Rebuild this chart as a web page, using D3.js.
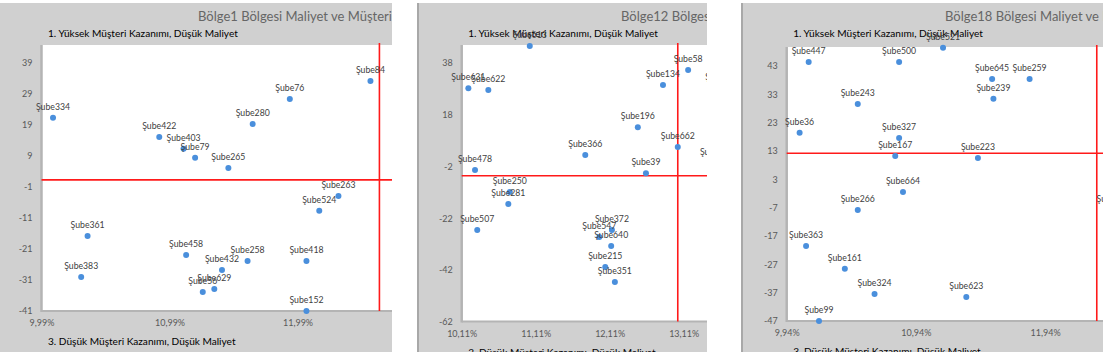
<!DOCTYPE html>
<html lang="tr">
<head>
	<meta charset="UTF-8"/>
	<title>Bölge Maliyet ve Müşteri Kazanımı</title>
	<script src="https://d3js.org/d3.v7.min.js"></script>
	<style>
		body{ margin:0; background:#fff; }
		svg{ display:block; font-family: Lato, "Open Sans", sans-serif; }
	</style>
</head>
<body>
<script>
// Bölge1 : x = maliyet (%), y = müşteri kazanımı
var b1Names = ["Şube334","Şube422","Şube403","Şube79","Şube265","Şube280","Şube76","Şube84","Şube263","Şube524",
			   "Şube361","Şube458","Şube258","Şube418","Şube432","Şube383","Şube629","Şube56","Şube152"];
var b1Cost  = [10.08, 10.91, 11.10, 11.19, 11.45, 11.64, 11.93, 12.56, 12.31, 12.16,
			   10.35, 11.12, 11.60, 12.06, 11.40, 10.30, 11.34, 11.25, 12.06];
var b1Gain  = [21.3, 15.1, 11.3, 8.4, 5.1, 19.3, 27.4, 33.2, -3.9, -8.7,
			   -16.8, -22.9, -24.9, -24.9, -27.8, -30.0, -33.9, -34.9, -41.0];
var b1XTicks = [9.99, 10.99, 11.99];
var b1YTicks = [-41, -31, -21, -11, -1, 9, 19, 29, 39];
var b1Limits = [12.63, 1.3];   // kırmızı çizgiler: maliyet, kazanım

// Bölge12
var b2Names = ["Şube613","Şube631","Şube622","Şube134","Şube58","Şube117","Şube196","Şube662","Şube590","Şube366",
			   "Şube478","Şube39","Şube250","Şube281","Şube507","Şube372","Şube547","Şube640","Şube215","Şube351"];
var b2Cost  = [11.03, 10.20, 10.47, 12.83, 13.17, 13.63, 12.49, 13.03, 13.56, 11.78,
			   10.29, 12.60, 10.76, 10.74, 10.32, 12.14, 11.97, 12.13, 12.05, 12.18];
var b2Gain  = [44.6, 28.3, 27.6, 29.5, 35.3, 28.3, 13.2, 5.5, -0.7, 2.4,
			   -3.4, -4.6, -11.9, -16.5, -26.6, -26.6, -29.3, -32.8, -40.9, -46.7];
var b2XTicks = [10.11, 11.11, 12.11, 13.11];
var b2YTicks = [-62, -42, -22, -2, 18, 38];
var b2Limits = [13.03, -5.6];

// Bölge18
var b3Names = ["Şube521","Şube447","Şube500","Şube645","Şube259","Şube243","Şube239","Şube36","Şube327","Şube167",
			   "Şube223","Şube664","Şube266","Şube363","Şube161","Şube324","Şube623","Şube99","Şube408"];
var b3Cost  = [11.15, 10.11, 10.81, 11.53, 11.82, 10.49, 11.54, 10.04, 10.81, 10.78,
			   11.42, 10.84, 10.49, 10.09, 10.39, 10.62, 11.33, 10.19, 12.47];
var b3Gain  = [49.4, 44.4, 44.4, 38.4, 38.4, 29.6, 31.4, 19.4, 17.6, 11.2,
			   10.5, -1.5, -7.8, -20.5, -28.6, -37.5, -38.5, -47.0, -7.8];
var b3XTicks = [9.94, 10.94, 11.94];
var b3YTicks = [-47, -37, -27, -17, -7, 3, 13, 23, 33, 43];
var b3Limits = [12.34, 12.2];

var w = 1103;
var h = 352;

var panels = [
	{title:"Bölge1 Bölgesi Maliyet ve Müşteri Kazanımı", names:b1Names, cost:b1Cost, gain:b1Gain,
	 xTicks:b1XTicks, yTicks:b1YTicks, limits:b1Limits, xMax:12.99, yMax:44.8,
	 left:0, right:392, plotL:41.5, plotR:425.5, plotT:45, plotB:311, titleX:198, border:false},
	{title:"Bölge12 Bölgesi Maliyet ve Müşteri Kazanımı", names:b2Names, cost:b2Cost, gain:b2Gain,
	 xTicks:b2XTicks, yTicks:b2YTicks, limits:b2Limits, xMax:14.11, yMax:45,
	 left:417, right:707, plotL:461.7, plotR:757.7, plotT:45, plotB:321.5, titleX:621, border:true},
	{title:"Bölge18 Bölgesi Maliyet ve Müşteri Kazanımı", names:b3Names, cost:b3Cost, gain:b3Gain,
	 xTicks:b3XTicks, yTicks:b3YTicks, limits:b3Limits, xMax:12.94, yMax:49.7,
	 left:741, right:1103, plotL:786.7, plotR:1174.3, plotT:47, plotB:321, titleX:945, border:true}
];

var svg = d3.select("body")
			.append("svg")
			.attr("width", w)
			.attr("height", h);

var pct = function(d){ return d3.format(".2f")(d).replace(".", ",") + "%"; };

panels.forEach(function(p, i){
	var clipId = "clip" + i;
	svg.append("clipPath").attr("id", clipId)
		.append("rect")
		.attr("x", p.left).attr("y", 3)
		.attr("width", p.right - p.left).attr("height", h - 3);

	var g = svg.append("g").attr("clip-path", "url(#" + clipId + ")");

	// chart background
	g.append("rect")
		.attr("x", p.left).attr("y", 3)
		.attr("width", p.right - p.left + 60).attr("height", h)
		.style("fill", "#d0d0d0");
	if (p.border){
		g.append("line")
			.attr("x1", p.left + 1).attr("x2", p.left + 1)
			.attr("y1", 3).attr("y2", h)
			.style("stroke", "#a8a8a8").style("stroke-width", 2);
	}

	var x = d3.scaleLinear()
			.domain([p.xTicks[0], p.xMax])
			.range([p.plotL, p.plotR]);
	var y = d3.scaleLinear()
			.domain([p.yTicks[0], p.yMax])
			.range([p.plotB, p.plotT]);

	// plot area
	g.append("rect")
		.attr("x", p.plotL).attr("y", p.plotT)
		.attr("width", p.plotR - p.plotL).attr("height", p.plotB - p.plotT)
		.style("fill", "#fff");

	// axis lines
	g.append("line")
		.attr("x1", p.plotL).attr("x2", p.plotL)
		.attr("y1", p.plotT).attr("y2", p.plotB + 1)
		.style("stroke", "#b4b4b4").style("stroke-width", 2.5);
	g.append("line")
		.attr("x1", p.plotL).attr("x2", p.plotR)
		.attr("y1", p.plotB).attr("y2", p.plotB)
		.style("stroke", "#b4b4b4").style("stroke-width", 2);

	// titles
	g.append("text")
		.attr("x", p.titleX).attr("y", 21)
		.style("font-size", "13px").style("fill", "#666")
		.text(p.title);
	g.append("text")
		.attr("x", p.plotL + 6.5).attr("y", 37)
		.style("font-size", "10.1px").style("fill", "#000")
		.text("1. Yüksek Müşteri Kazanımı, Düşük Maliyet");
	g.append("text")
		.attr("x", p.plotL + 6.5).attr("y", p.plotB + 34)
		.style("font-size", "10.1px").style("fill", "#000")
		.text("3. Düşük Müşteri Kazanımı, Düşük Maliyet");

	// axes
	var yAxis = d3.axisLeft(y).tickValues(p.yTicks).tickSize(0).tickPadding(9)
				.tickFormat(function(d){ return String(d); });
	var xAxis = d3.axisBottom(x).tickValues(p.xTicks).tickSize(0).tickPadding(9)
				.tickFormat(pct);

	var ya = g.append("g").attr("transform", "translate(" + p.plotL + ",0)").call(yAxis);
	var xa = g.append("g").attr("transform", "translate(0," + p.plotB + ")").call(xAxis);
	[ya, xa].forEach(function(a){
		a.select(".domain").remove();
		a.selectAll("text")
			.style("font-family", "Lato, 'Open Sans', sans-serif")
			.style("font-size", "9px")
			.style("fill", "#595959");
	});

	// red reference lines
	g.append("line")
		.attr("x1", p.plotL).attr("x2", p.plotR)
		.attr("y1", y(p.limits[1])).attr("y2", y(p.limits[1]))
		.style("stroke", "#ff1a1a").style("stroke-width", 1.6);
	g.append("line")
		.attr("x1", x(p.limits[0])).attr("x2", x(p.limits[0]))
		.attr("y1", p.plotT - 2).attr("y2", p.plotB)
		.style("stroke", "#ff1a1a").style("stroke-width", 1.6);

	var idx = d3.range(p.names.length);

	g.selectAll("circle.pt")
		.data(idx)
		.enter()
		.append("circle")
		.attr("class", "pt")
		.attr("cx", function(d){ return x(p.cost[d]); })
		.attr("cy", function(d){ return y(p.gain[d]); })
		.attr("r", 3)
		.style("fill", "#4a8fdc");

	g.selectAll("text.lbl")
		.data(idx)
		.enter()
		.append("text")
		.attr("class", "lbl")
		.attr("x", function(d){ return x(p.cost[d]); })
		.attr("y", function(d){ return y(p.gain[d]) - 8; })
		.attr("text-anchor", "middle")
		.style("font-size", "8.7px")
		.style("fill", "#404040")
		.text(function(d){ return p.names[d]; });
});
</script>
</body>
</html>
